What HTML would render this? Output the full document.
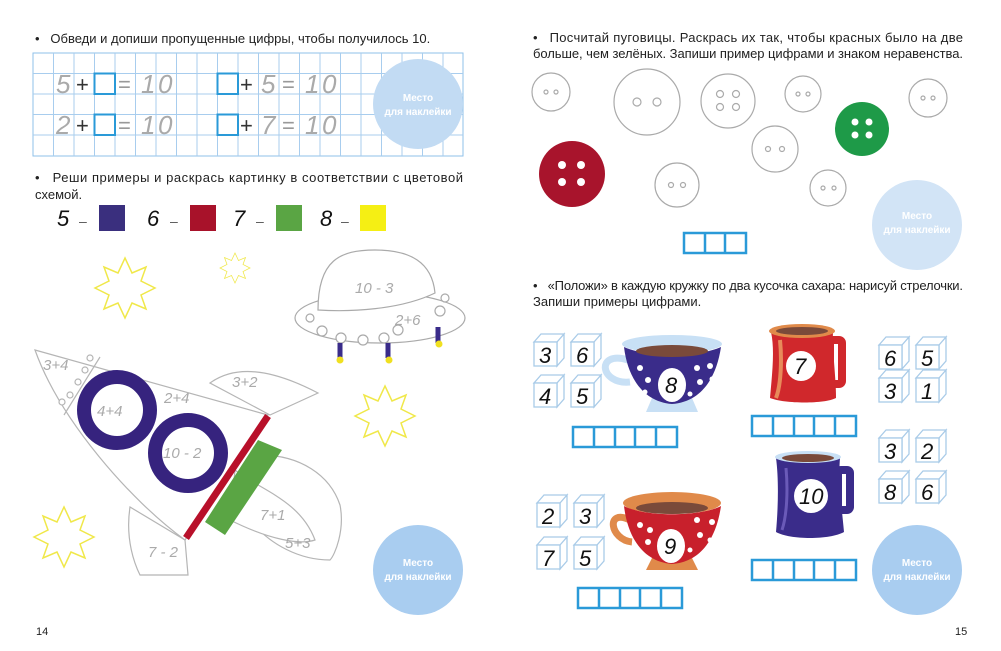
<!DOCTYPE html>
<html><head><meta charset="utf-8"><style>
html,body{margin:0;padding:0;background:#fff;}
svg{display:block;}
.t{font-family:"Liberation Sans",sans-serif;font-size:13px;fill:#222;}
.h{font-family:"Liberation Sans",sans-serif;font-style:italic;fill:#aaa;}
.hd{font-family:"Liberation Sans",sans-serif;font-style:italic;fill:#111;font-size:22px;}
.st{font-family:"Liberation Sans",sans-serif;font-weight:bold;font-size:10px;fill:#fff;}
</style></head><body>
<svg width="1001" height="651" viewBox="0 0 1001 651" xmlns="http://www.w3.org/2000/svg">
<defs>
<g id="cube"><path d="M0,0 L7,-8 L30,-8 L23,0 Z M23,0 L30,-8 L30,16 L23,24 Z" fill="#fff" stroke="#a9cbe8" stroke-width="1.3"/><rect x="0" y="0" width="23" height="24" fill="#fff" stroke="#a9cbe8" stroke-width="1.3"/></g>
<g id="b5" fill="none" stroke="#2a9ad8" stroke-width="2.5"><rect x="0" y="0" width="104" height="20"/><path d="M21,0V20M42,0V20M62,0V20M83,0V20"/></g>
<g id="star"><polygon points="0,-30 7,-15 21,-21 16,-7 30,0 16,7 21,21 7,15 0,30 -7,15 -21,21 -16,7 -30,0 -16,-7 -21,-21 -7,-15" fill="none" stroke="#f0e84a" stroke-width="1.5"/></g>
</defs>

<!-- LEFT PAGE -->
<text class="t" x="35" y="43">•&#160;&#160;&#160;Обведи и допиши пропущенные цифры, чтобы получилось 10.</text>
<g stroke="#a8cdee" stroke-width="1" fill="none">
<rect x="33" y="53" width="430" height="103" stroke="#8fc0ea"/>
<path d="M53.5,53V156M74,53V156M94.5,53V156M115,53V156M135.5,53V156M156,53V156M176.5,53V156M197,53V156M217.5,53V156M238,53V156M258.5,53V156M279,53V156M299.5,53V156M320,53V156M340.5,53V156M361,53V156M381.5,53V156M402,53V156M422.5,53V156M443,53V156"/>
<path d="M33,73.5H463M33,94H463M33,114.5H463M33,135H463"/>
</g>
<g fill="none" stroke="#2a9ad8" stroke-width="2"><rect x="94.5" y="73.5" width="20.5" height="20.5"/><rect x="217.5" y="73.5" width="20.5" height="20.5"/><rect x="94.5" y="114.5" width="20.5" height="20.5"/><rect x="217.5" y="114.5" width="20.5" height="20.5"/></g>
<g font-size="26">
<text class="h" x="56" y="93">5</text><text x="76" y="92" font-family="Liberation Sans" font-size="22" fill="#333">+</text><text x="118" y="92" font-family="Liberation Sans" font-size="22" fill="#999">=</text><text class="h" x="141" y="93">1</text><text class="h" x="158" y="93">0</text>
<text class="h" x="56" y="134">2</text><text x="76" y="133" font-family="Liberation Sans" font-size="22" fill="#333">+</text><text x="118" y="133" font-family="Liberation Sans" font-size="22" fill="#999">=</text><text class="h" x="141" y="134">1</text><text class="h" x="158" y="134">0</text>
<text x="240" y="92" font-family="Liberation Sans" font-size="22" fill="#333">+</text><text class="h" x="261" y="93">5</text><text x="282" y="92" font-family="Liberation Sans" font-size="22" fill="#999">=</text><text class="h" x="305" y="93">1</text><text class="h" x="322" y="93">0</text>
<text x="240" y="133" font-family="Liberation Sans" font-size="22" fill="#333">+</text><text class="h" x="261" y="134">7</text><text x="282" y="133" font-family="Liberation Sans" font-size="22" fill="#999">=</text><text class="h" x="305" y="134">1</text><text class="h" x="322" y="134">0</text>
</g>
<circle cx="418" cy="104" r="45" fill="#c2dbf3"/>
<text class="st" x="418" y="101" text-anchor="middle">Место</text><text class="st" x="418" y="115" text-anchor="middle">для наклейки</text>

<text class="t" x="35" y="182" textLength="428" lengthAdjust="spacing">•&#160;&#160;&#160;Реши примеры и раскрась картинку в соответствии с цветовой</text>
<text class="t" x="35" y="199">схемой.</text>
<g class="hd" font-size="19">
<text x="57" y="226">5</text><text x="147" y="226">6</text><text x="233" y="226">7</text><text x="320" y="226">8</text>
</g>
<g fill="#555" font-family="Liberation Sans" font-size="14"><text x="79" y="226">–</text><text x="170" y="226">–</text><text x="256" y="226">–</text><text x="341" y="226">–</text></g>
<rect x="99" y="205" width="26" height="26" fill="#3a2f7e"/>
<rect x="190" y="205" width="26" height="26" fill="#a8122a"/>
<rect x="276" y="205" width="26" height="26" fill="#5aa544"/>
<rect x="360" y="205" width="26" height="26" fill="#f5ef14"/>

<use href="#star" transform="translate(125,288)"/>
<use href="#star" transform="translate(235,268) scale(0.5)"/>
<use href="#star" transform="translate(385,416)"/>
<use href="#star" transform="translate(64,537)"/>

<!-- UFO -->
<g stroke="#aaa" stroke-width="1.2" fill="#fff">
<ellipse cx="380" cy="318" rx="85" ry="25"/>
<path d="M318,310 C318,260 340,250 375,250 C410,250 432,262 435,293 C400,310 350,312 318,310 Z"/>
<circle cx="310" cy="318" r="4"/><circle cx="322" cy="331" r="5"/><circle cx="341" cy="338" r="5"/><circle cx="363" cy="340" r="5"/><circle cx="384" cy="338" r="5"/><circle cx="398" cy="330" r="5"/><circle cx="440" cy="311" r="5"/><circle cx="445" cy="298" r="4"/>
</g>
<g stroke="#3a2c8a" stroke-width="5"><path d="M340,343V358M388,343V358M438,327V343"/></g>
<g fill="#f0e020"><circle cx="340" cy="360" r="3.5"/><circle cx="389" cy="360" r="3.5"/><circle cx="439" cy="344" r="3.5"/></g>
<text class="h" x="355" y="293" font-size="15">10 - 3</text>
<text class="h" x="395" y="325" font-size="15">2+6</text>

<!-- Rocket -->
<g stroke="#b5b5b5" stroke-width="1.2" fill="#fff">
<path d="M210,383 C235,365 270,368 318,393 L270,415 Z"/>
<path d="M130,507 C125,540 135,565 140,575 L188,575 L185,540 Z"/>
<path d="M260,455 C300,455 330,475 340,505 C345,530 335,555 330,560 C300,560 270,545 250,520 Z"/>
<path d="M235,470 C260,490 300,500 315,540 C300,545 270,540 230,520 Z"/>
<path d="M35,350 L268,415 L185,540 C130,500 60,420 35,350 Z"/>
<path d="M100,357 L64,415"/>
<circle cx="90" cy="358" r="3"/><circle cx="85" cy="370" r="3"/><circle cx="78" cy="382" r="3"/><circle cx="70" cy="395" r="3"/><circle cx="62" cy="402" r="3"/>
</g>
<circle cx="117" cy="410" r="33" fill="none" stroke="#36237e" stroke-width="14"/>
<circle cx="188" cy="453" r="33" fill="none" stroke="#36237e" stroke-width="14"/>
<polygon points="258,440 282,450 225,535 205,522" fill="#5aa544"/>
<path d="M268,416 L186,538" stroke="#b8102a" stroke-width="7"/>
<g class="h" font-size="15">
<text x="43" y="370">3+4</text><text x="97" y="416">4+4</text><text x="163" y="458">10 - 2</text><text x="164" y="403">2+4</text><text x="232" y="387">3+2</text><text x="260" y="520">7+1</text><text x="285" y="548">5+3</text><text x="148" y="557">7 - 2</text>
</g>
<circle cx="418" cy="570" r="45" fill="#a9cdf0"/>
<text class="st" x="418" y="566" text-anchor="middle">Место</text><text class="st" x="418" y="580" text-anchor="middle">для наклейки</text>
<text x="36" y="635" font-family="Liberation Sans" font-size="11" fill="#222">14</text>

<!-- RIGHT PAGE -->
<text class="t" x="533" y="42" textLength="430" lengthAdjust="spacing">•&#160;&#160;&#160;Посчитай пуговицы. Раскрась их так, чтобы красных было на две</text>
<text class="t" x="533" y="58" textLength="430" lengthAdjust="spacing">больше, чем зелёных. Запиши пример цифрами и знаком неравенства.</text>
<g fill="#fff" stroke="#aaa" stroke-width="1.2">
<circle cx="551" cy="92" r="19"/><circle cx="546" cy="92" r="2"/><circle cx="556" cy="92" r="2"/>
<circle cx="647" cy="102" r="33"/><circle cx="637" cy="102" r="4"/><circle cx="657" cy="102" r="4"/>
<circle cx="728" cy="101" r="27"/><circle cx="720" cy="94" r="3.5"/><circle cx="736" cy="94" r="3.5"/><circle cx="720" cy="107" r="3.5"/><circle cx="736" cy="107" r="3.5"/>
<circle cx="803" cy="94" r="18"/><circle cx="798" cy="94" r="2"/><circle cx="808" cy="94" r="2"/>
<circle cx="928" cy="98" r="19"/><circle cx="923" cy="98" r="2"/><circle cx="933" cy="98" r="2"/>
<circle cx="775" cy="149" r="23"/><circle cx="768" cy="149" r="2.5"/><circle cx="782" cy="149" r="2.5"/>
<circle cx="677" cy="185" r="22"/><circle cx="671" cy="185" r="2.5"/><circle cx="683" cy="185" r="2.5"/>
<circle cx="828" cy="188" r="18"/><circle cx="823" cy="188" r="2"/><circle cx="834" cy="188" r="2"/>
</g>
<circle cx="862" cy="129" r="27" fill="#1e9a48"/>
<g fill="#fff"><circle cx="855" cy="122" r="3.5"/><circle cx="869" cy="122" r="3.5"/><circle cx="855" cy="135" r="3.5"/><circle cx="869" cy="135" r="3.5"/></g>
<circle cx="572" cy="174" r="33" fill="#a8142c"/>
<g fill="#fff"><circle cx="562" cy="165" r="4"/><circle cx="581" cy="165" r="4"/><circle cx="562" cy="182" r="4"/><circle cx="581" cy="182" r="4"/></g>
<g fill="none" stroke="#2a9ad8" stroke-width="2.5"><rect x="684" y="233" width="62" height="20"/><path d="M705,233V253M725,233V253"/></g>
<circle cx="917" cy="225" r="45" fill="#d2e4f6"/>
<text class="st" x="917" y="219" text-anchor="middle">Место</text><text class="st" x="917" y="233" text-anchor="middle">для наклейки</text>

<text class="t" x="533" y="290" textLength="430" lengthAdjust="spacing">•&#160;&#160;&#160;«Положи» в каждую кружку по два кусочка сахара: нарисуй стрелочки.</text>
<text class="t" x="533" y="306">Запиши примеры цифрами.</text>

<!-- cubes -->
<g>
<use href="#cube" x="534" y="342"/><use href="#cube" x="571" y="342"/><use href="#cube" x="534" y="383"/><use href="#cube" x="571" y="383"/>
<use href="#cube" x="879" y="345"/><use href="#cube" x="916" y="345"/><use href="#cube" x="879" y="378"/><use href="#cube" x="916" y="378"/>
<use href="#cube" x="879" y="438"/><use href="#cube" x="916" y="438"/><use href="#cube" x="879" y="479"/><use href="#cube" x="916" y="479"/>
<use href="#cube" x="537" y="503"/><use href="#cube" x="574" y="503"/><use href="#cube" x="537" y="545"/><use href="#cube" x="574" y="545"/>
</g>
<g class="hd">
<text x="539" y="363">3</text><text x="576" y="363">6</text><text x="539" y="404">4</text><text x="576" y="404">5</text>
<text x="884" y="366">6</text><text x="921" y="366">5</text><text x="884" y="399">3</text><text x="921" y="399">1</text>
<text x="884" y="459">3</text><text x="921" y="459">2</text><text x="884" y="500">8</text><text x="921" y="500">6</text>
<text x="542" y="524">2</text><text x="579" y="524">3</text><text x="542" y="566">7</text><text x="579" y="566">5</text>
</g>

<!-- cup 8 -->
<path d="M628,360 C595,350 600,385 630,382" fill="none" stroke="#c8e0f5" stroke-width="7"/>
<path d="M652,398 L692,398 L698,412 L646,412 Z" fill="#c8e0f5"/>
<ellipse cx="672" cy="344" rx="50" ry="9" fill="#c8e0f5"/>
<path d="M624,347 C628,380 645,402 672,404 C700,402 716,380 721,347 C700,357 645,357 624,347 Z" fill="#3a2c8a"/>
<ellipse cx="672" cy="351" rx="36" ry="6" fill="#7a4a3a"/>
<g fill="#fff"><circle cx="640" cy="368" r="3"/><circle cx="648" cy="380" r="3"/><circle cx="645" cy="392" r="2.5"/><circle cx="697" cy="368" r="3"/><circle cx="710" cy="366" r="3"/><circle cx="700" cy="382" r="3"/><circle cx="712" cy="379" r="2.5"/><circle cx="690" cy="394" r="2.5"/></g>
<ellipse cx="672" cy="385" rx="14" ry="17" fill="#fff"/>
<text class="hd" x="665" y="393">8</text>
<use href="#b5" x="573" y="427"/>

<!-- red mug 7 -->
<rect x="830" y="340" width="12" height="44" fill="none" stroke="#d0282c" stroke-width="8" rx="3"/>
<path d="M771,332 L833,332 C832,350 836,375 836,398 C825,404 785,404 770,398 C772,375 775,350 771,332 Z" fill="#d0282c"/>
<path d="M780,340 C782,360 781,385 776,398" stroke="#e88a5a" stroke-width="4" fill="none"/>
<ellipse cx="802" cy="331" rx="33" ry="7" fill="#e08a4a"/>
<ellipse cx="802" cy="331" rx="26" ry="4" fill="#7a4a3a"/>
<circle cx="801" cy="366" r="15" fill="#fff"/>
<text class="hd" x="794" y="374">7</text>
<use href="#b5" x="752" y="416"/>

<!-- navy mug 10 -->
<rect x="838" y="470" width="12" height="40" fill="none" stroke="#3a2c8a" stroke-width="8" rx="3"/>
<path d="M776,458 L840,458 C838,480 842,510 844,532 C830,540 790,540 776,532 C778,510 779,480 776,458 Z" fill="#3a2c8a"/>
<path d="M786,468 C788,490 787,515 782,530" stroke="#6a5ab8" stroke-width="3" fill="none"/>
<ellipse cx="808" cy="457" rx="33" ry="6" fill="#c8e0f5"/>
<ellipse cx="808" cy="458" rx="26" ry="4" fill="#7a4a3a"/>
<circle cx="811" cy="496" r="17" fill="#fff"/>
<text class="hd" x="799" y="504" font-size="20">10</text>
<use href="#b5" x="752" y="560"/>

<!-- red cup 9 -->
<path d="M630,520 C605,508 610,540 632,542" fill="none" stroke="#e08a4a" stroke-width="7"/>
<path d="M652,558 L692,558 L698,570 L646,570 Z" fill="#e08a4a"/>
<ellipse cx="672" cy="503" rx="49" ry="11" fill="#e08a4a"/>
<path d="M624,506 C628,540 645,562 672,564 C700,562 716,540 721,506 C700,517 645,517 624,506 Z" fill="#c8202c"/>
<ellipse cx="672" cy="508" rx="36" ry="6" fill="#7a4a3a"/>
<g fill="#fff"><circle cx="640" cy="525" r="3"/><circle cx="650" cy="530" r="3"/><circle cx="648" cy="542" r="3"/><circle cx="697" cy="520" r="3"/><circle cx="712" cy="522" r="3"/><circle cx="700" cy="535" r="3"/><circle cx="710" cy="540" r="2.5"/><circle cx="690" cy="550" r="2.5"/></g>
<ellipse cx="671" cy="546" rx="14" ry="17" fill="#fff"/>
<text class="hd" x="664" y="554">9</text>
<use href="#b5" x="578" y="588"/>

<circle cx="917" cy="570" r="45" fill="#a9cdf0"/>
<text class="st" x="917" y="566" text-anchor="middle">Место</text><text class="st" x="917" y="580" text-anchor="middle">для наклейки</text>
<text x="955" y="635" font-family="Liberation Sans" font-size="11" fill="#222">15</text>
</svg>
</body></html>
